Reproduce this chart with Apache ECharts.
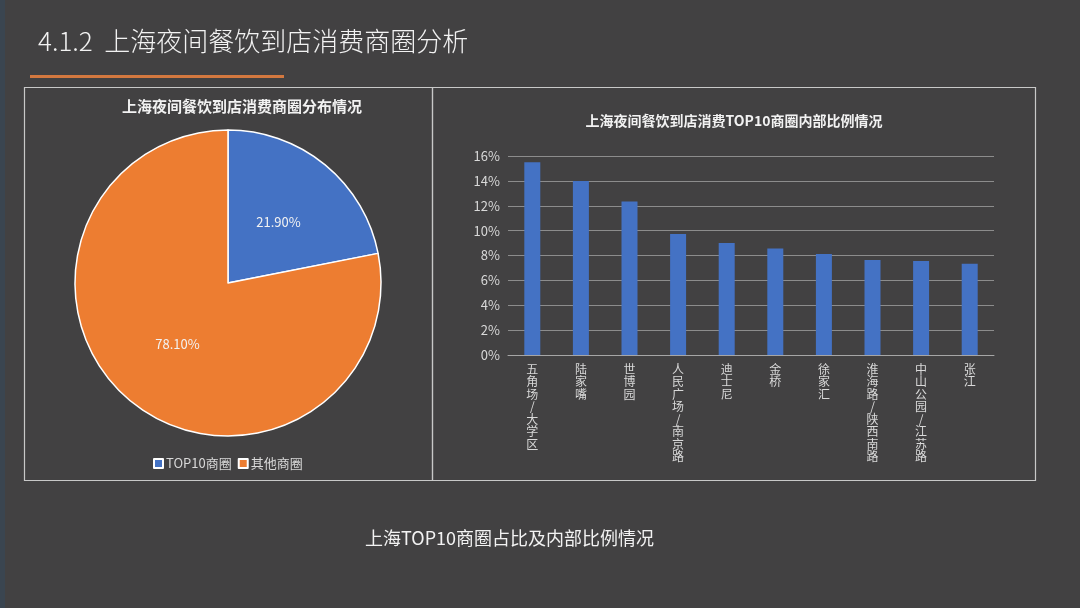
<!DOCTYPE html>
<html><head><meta charset="utf-8">
<script src="https://cdn.jsdelivr.net/npm/echarts@6/dist/echarts.min.js"></script>
<style>html,body{margin:0;padding:0;background:#424142;}#c{width:1080px;height:608px;}</style>
</head><body><div id="c"></div>
<script>
const pieNames = ['TOP10商圈', '其他商圈'];
const pieValues = [21.9, 78.1];
const barCategories = ['五角场/大学区', '陆家嘴', '世博园', '人民广场/南京路', '迪士尼', '金桥', '徐家汇', '淮海路/陕西南路', '中山公园/江苏路', '张江'];
const barValues = [15.5, 14.0, 12.35, 9.73, 9.0, 8.56, 8.13, 7.63, 7.55, 7.33];
const yTicks = [0, 2, 4, 6, 8, 10, 12, 14, 16];

const FONT = '"Noto Sans CJK SC","Noto Sans",sans-serif';
const chart = echarts.init(document.getElementById('c'));
chart.setOption({
  backgroundColor: '#424142',
  animation: false,
  textStyle: { fontFamily: FONT },
  title: [
    { text: '上海夜间餐饮到店消费商圈分布情况', left: 237, top: 94, textAlign: 'center',
      textStyle: { color: '#f2f2f2', fontSize: 15, fontWeight: 'bold', fontFamily: FONT } },
    { text: '上海夜间餐饮到店消费TOP10商圈内部比例情况', left: 729, top: 109, textAlign: 'center',
      textStyle: { color: '#f2f2f2', fontSize: 14, fontWeight: 'bold', fontFamily: FONT } }
  ],
  legend: {
    data: pieNames, left: 148, top: 452,
    itemWidth: 9, itemHeight: 9, itemGap: 6, icon: 'rect',
    textStyle: { color: '#d9d9d9', fontSize: 13, padding: [0, 0, 0, -2] }
  },
  grid: { left: 508, right: 1080 - 994, top: 156, bottom: 608 - 355, containLabel: false },
  xAxis: {
    type: 'category', data: barCategories,
    axisLine: { lineStyle: { color: '#a6a6a6', width: 1 } },
    axisTick: { show: false },
    axisLabel: {
      color: '#d9d9d9', fontSize: 12, lineHeight: 12.5, margin: 8, interval: 0,
      verticalAlign: 'top',
      formatter: v => v.split('').join('\n')
    }
  },
  yAxis: {
    type: 'value', min: 0, max: 16, interval: 2,
    axisLine: { show: false }, axisTick: { show: false },
    axisLabel: { color: '#d9d9d9', fontSize: 13, margin: 8, formatter: '{value}%' },
    splitLine: { lineStyle: { color: '#8c8c8c', width: 1 } }
  },
  series: [
    {
      type: 'pie', center: [228, 283], radius: 153, startAngle: 90, clockwise: true,
      label: { show: true, position: 'inside', color: '#f2f2f2', fontSize: 13,
        formatter: p => p.value.toFixed(2) + '%' },
      labelLine: { show: false },
      itemStyle: { borderColor: '#ffffff', borderWidth: 1.5 },
      emphasis: { disabled: true },
      data: pieNames.map((n, i) => ({ name: n, value: pieValues[i],
        itemStyle: { color: i === 0 ? '#4472c4' : '#ed7d31' } }))
    },
    {
      type: 'bar', data: barValues, barWidth: 16,
      itemStyle: { color: '#4472c4' }
    }
  ],
  graphic: [
    { type: 'rect', shape: { x: 0, y: 0, width: 5, height: 608 }, style: { fill: '#3a4550' } },
    { type: 'text', left: 38, top: 28, style: { text: '4.1.2  上海夜间餐饮到店消费商圈分析', fill: '#f2f2f2',
        font: '300 26px "Noto Sans CJK SC", sans-serif' } },
    { type: 'rect', shape: { x: 30, y: 75, width: 254, height: 3 }, style: { fill: '#d3783f' } },
    { type: 'rect', shape: { x: 24.5, y: 87.5, width: 408, height: 393 }, style: { fill: 'none', stroke: '#c8c8c8', lineWidth: 1.2 } },
    { type: 'rect', shape: { x: 432.5, y: 87.5, width: 603, height: 393 }, style: { fill: 'none', stroke: '#c8c8c8', lineWidth: 1.2 } },
    { type: 'text', left: 365, top: 529, style: { text: '上海TOP10商圈占比及内部比例情况', fill: '#f2f2f2',
        font: '18px "Noto Sans CJK SC", sans-serif' } }
  ]
});
</script></body></html>
